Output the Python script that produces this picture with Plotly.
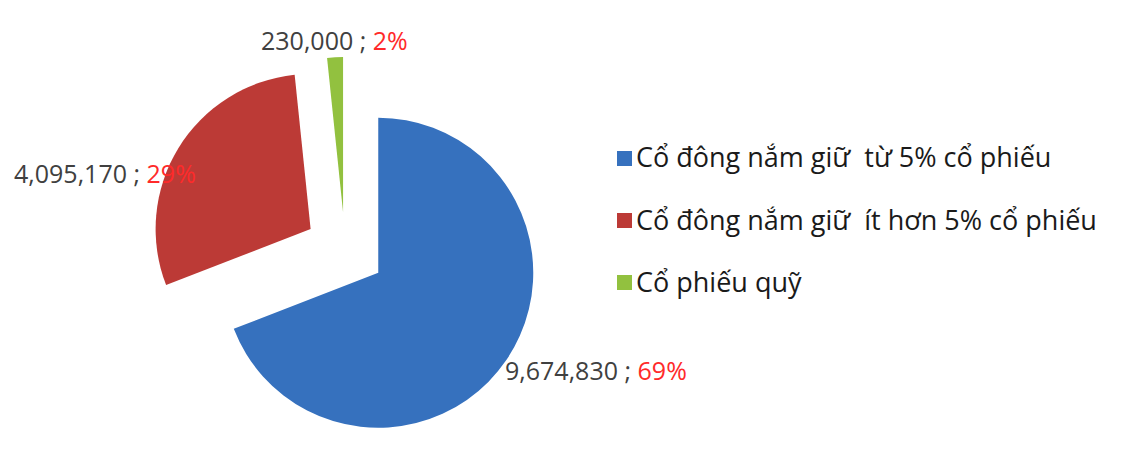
import plotly.graph_objects as go

labels = ["Cổ đông nắm giữ  từ 5% cổ phiếu",
          "Cổ đông nắm giữ  ít hơn 5% cổ phiếu",
          "Cổ phiếu quỹ"]
values = [9674830, 4095170, 230000]
percents = ["69%", "29%", "2%"]
colors = ["#3671BE", "#BC3A36", "#92C13F"]
pulls = [0.26, 0.26, 0.245]

W, H = 1132, 472
OX, OY = 8, 9  # page offset of the plot div


def px(x):
    return (x - OX) / W


def py(y):
    return 1 - (y - OY) / H


fig = go.Figure()
R = 155
half = R * (1 + max(pulls))
cx, cy = 345, 251
fig.add_trace(go.Pie(
    labels=labels, values=values, sort=False, direction="clockwise", rotation=0,
    pull=pulls, marker=dict(colors=colors, line=dict(width=0)),
    textinfo="none", hoverinfo="label+value+percent", showlegend=False,
    domain=dict(x=[px(cx - half), px(cx + half)], y=[py(cy + half), py(cy - half)]),
))

num_color = "#404040"
pct_color = "#FF2A2A"
font_family = "Open Sans"

# data label placements: blue, red, green
label_pos = [(503, 371), (12, 174), (259, 41)]
for v, p, (lx, ly) in zip(values, percents, label_pos):
    fig.add_annotation(
        x=px(lx), y=py(ly), xref="paper", yref="paper",
        xanchor="left", yanchor="middle", showarrow=False,
        text=f"<span style='color:{num_color}'>{v:,} ; </span><span style='color:{pct_color}'>{p}</span>",
        font=dict(family=font_family, size=25, color=num_color),
    )

# manual legend
leg_rows = [158, 220, 282]
for lab, col, ry in zip(labels, colors, leg_rows):
    fig.add_shape(type="rect", xref="paper", yref="paper",
                  x0=px(617), x1=px(632), y0=py(ry + 9), y1=py(ry - 6),
                  fillcolor=col, line=dict(width=0))
    fig.add_annotation(
        x=px(634), y=py(ry), xref="paper", yref="paper",
        xanchor="left", yanchor="middle", showarrow=False,
        text=lab, font=dict(family=font_family, size=27, color="#1a1a1a"),
    )

fig.update_layout(
    width=W, height=H, margin=dict(l=0, r=0, t=0, b=0),
    paper_bgcolor="white", plot_bgcolor="white",
)
fig.write_html("out.html")
